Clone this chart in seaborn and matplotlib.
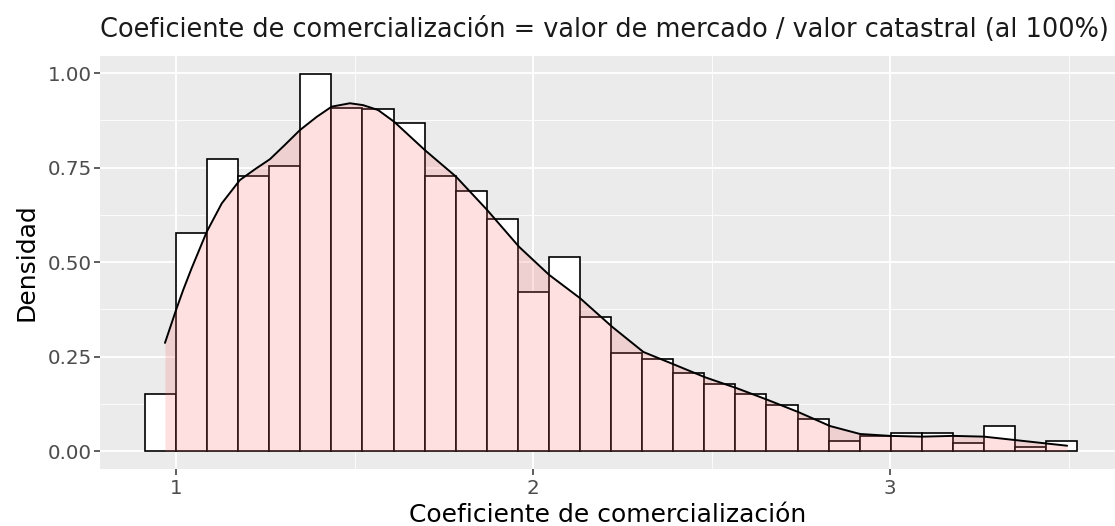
import numpy as np
import pandas as pd
import matplotlib
matplotlib.use("Agg")
import matplotlib.pyplot as plt
import seaborn as sns
from matplotlib.ticker import MultipleLocator, FormatStrFormatter

# -----------------------------
# Data
# -----------------------------
# histogram: 30 equal bins, density per bin
bin_lo, bin_hi, n_bins = 0.913, 3.524, 30
bar_density = [0.150, 0.578, 0.773, 0.727, 0.755, 0.997, 0.907, 0.904, 0.868, 0.727,
               0.689, 0.615, 0.420, 0.512, 0.355, 0.260, 0.244, 0.206, 0.178, 0.150,
               0.121, 0.084, 0.026, 0.040, 0.047, 0.047, 0.020, 0.066, 0.011, 0.027]

# kernel density curve
kde_x = [0.969, 1.000, 1.020, 1.043, 1.086, 1.128, 1.179, 1.222, 1.263, 1.305,
         1.347, 1.394, 1.436, 1.487, 1.524, 1.566, 1.611, 1.697, 1.784, 1.871,
         1.961, 2.045, 2.132, 2.221, 2.309, 2.392, 2.482, 2.571, 2.655, 2.743,
         2.832, 2.916, 3.000, 3.090, 3.176, 3.263, 3.350, 3.437, 3.496]
kde_y = [0.286, 0.373, 0.426, 0.482, 0.580, 0.655, 0.717, 0.746, 0.772, 0.810,
         0.849, 0.884, 0.911, 0.920, 0.915, 0.902, 0.871, 0.796, 0.726, 0.638,
         0.540, 0.466, 0.404, 0.329, 0.262, 0.230, 0.195, 0.166, 0.136, 0.103,
         0.066, 0.045, 0.040, 0.038, 0.040, 0.038, 0.029, 0.020, 0.014]

title = "Coeficiente de comercialización = valor de mercado / valor catastral (al 100%)"
xlab = "Coeficiente de comercialización"
ylab = "Densidad"

# -----------------------------
# Plot
# -----------------------------
sns.set_theme(style="darkgrid", rc={
    "axes.facecolor": "#EBEBEB",
    "grid.color": "white",
    "axes.edgecolor": "#EBEBEB",
})
plt.rcParams["font.family"] = ["DejaVu Sans"]

edges = np.linspace(bin_lo, bin_hi, n_bins + 1)
bars = pd.DataFrame({"x": (edges[:-1] + edges[1:]) / 2, "w": bar_density})

fig = plt.figure(figsize=(11.15, 5.26), dpi=100)
ax = fig.add_axes([100 / 1115, 57 / 526, 1015 / 1115, 413 / 526])

sns.histplot(data=bars, x="x", weights="w", bins=list(edges), stat="count",
             color="white", edgecolor="black", linewidth=1.2, alpha=1, ax=ax, zorder=2)
ax.fill_between(kde_x, kde_y, color="#FF6666", alpha=0.2, linewidth=0, zorder=3)
sns.lineplot(x=kde_x, y=kde_y, color="black", linewidth=1.4, sort=False, ax=ax, zorder=4)

ax.set_xlim(0.787, 3.630)
ax.set_ylim(-0.0476, 1.045)
ax.xaxis.set_major_locator(MultipleLocator(1))
ax.xaxis.set_minor_locator(MultipleLocator(0.5))
ax.yaxis.set_major_locator(MultipleLocator(0.25))
ax.yaxis.set_minor_locator(MultipleLocator(0.125))
ax.yaxis.set_major_formatter(FormatStrFormatter("%.2f"))
ax.xaxis.set_major_formatter(FormatStrFormatter("%d"))
ax.grid(which="major", color="white", linewidth=1.3)
ax.grid(which="minor", color="white", linewidth=0.6)
ax.set_axisbelow(True)
ax.tick_params(which="major", length=4, width=1.1, color="#333333",
               labelcolor="#4D4D4D", labelsize=14.3, bottom=True, left=True)
ax.tick_params(axis="x", pad=3.5)
ax.tick_params(axis="y", pad=2)
ax.tick_params(which="minor", length=0)
for s in ax.spines.values():
    s.set_visible(False)

ax.set_title(title, loc="left", fontsize=18.45, color="#1A1A1A", pad=13.5)
ax.set_xlabel(xlab, fontsize=18, color="black")
ax.set_ylabel(ylab, fontsize=18, color="black")
ax.xaxis.set_label_coords(0.5, -0.082)
ax.yaxis.set_label_coords(-0.061, 0.5)

fig.savefig("out.png", dpi=100)
